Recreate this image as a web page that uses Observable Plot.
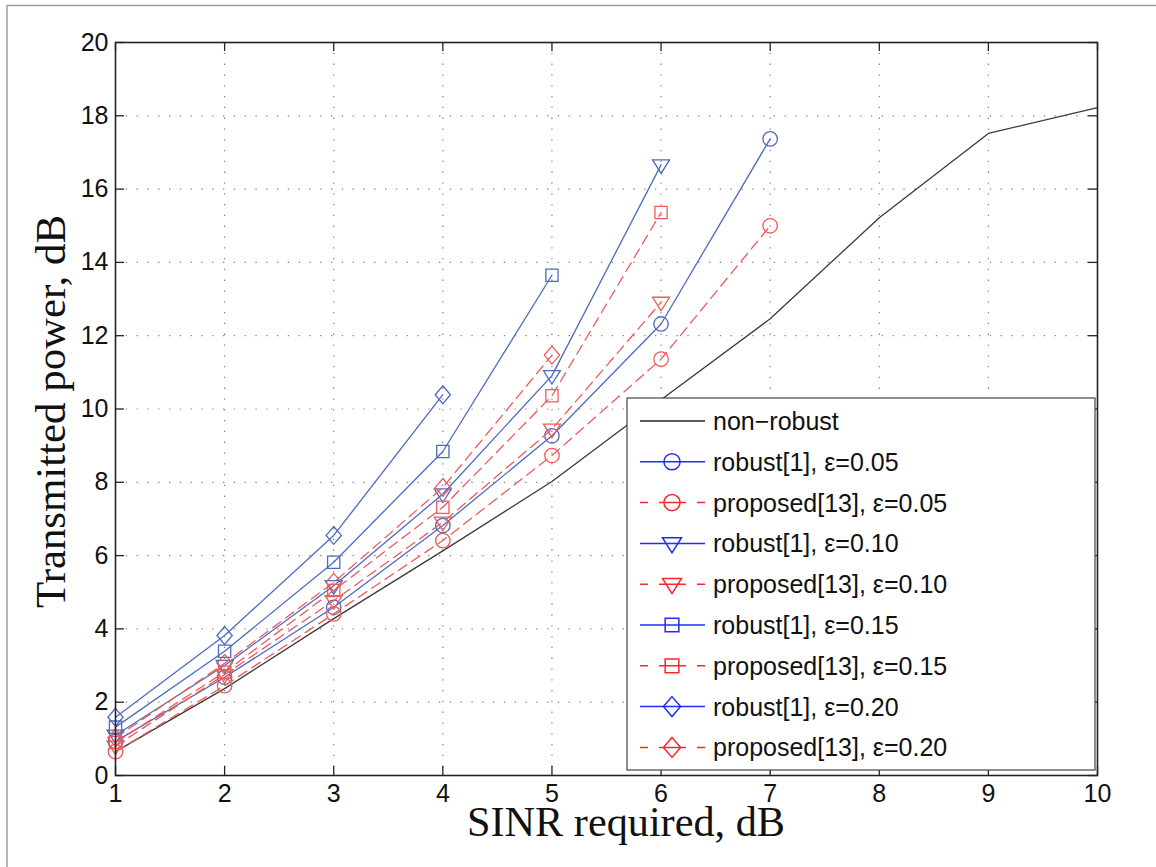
<!DOCTYPE html>
<html><head><meta charset="utf-8">
<script src="https://cdn.jsdelivr.net/npm/d3@7"></script>
<script src="https://cdn.jsdelivr.net/npm/@observablehq/plot@0.6"></script>
<style>body{margin:0;background:#fff;} #chart{width:1156px;height:867px;}</style>
</head><body><div id="chart"></div>
<script>
// ---- data ----
const xTicks = [1, 2, 3, 4, 5, 6, 7, 8, 9, 10];
const yTicks = [0, 2, 4, 6, 8, 10, 12, 14, 16, 18, 20];
const sinr = [1, 2, 3, 4, 5, 6, 7, 8, 9, 10];
const nonRobust   = [0.65, 2.37, 4.28, 6.13, 8.02, 10.25, 12.46, 15.22, 17.52, 18.22];
const robust005   = [0.93, 2.68, 4.59, 6.82, 9.27, 12.32, 17.37];
const proposed005 = [0.65, 2.45, 4.41, 6.41, 8.73, 11.36, 15.0];
const robust010   = [1.10, 3.00, 5.18, 7.68, 10.91, 16.66];
const proposed010 = [0.80, 2.75, 4.77, 6.91, 9.45, 12.91];
const robust015   = [1.32, 3.39, 5.82, 8.84, 13.65];
const proposed015 = [0.90, 2.82, 5.05, 7.32, 10.36, 15.36];
const robust020   = [1.59, 3.82, 6.55, 10.39];
const proposed020 = [1.03, 3.06, 5.27, 7.86, 11.47];
const seriesLabels = ["non\u2212robust",
  "robust[1], \u03b5=0.05", "proposed[13], \u03b5=0.05",
  "robust[1], \u03b5=0.10", "proposed[13], \u03b5=0.10",
  "robust[1], \u03b5=0.15", "proposed[13], \u03b5=0.15",
  "robust[1], \u03b5=0.20", "proposed[13], \u03b5=0.20"];
const seriesValues = [nonRobust, robust005, proposed005, robust010, proposed010,
  robust015, proposed015, robust020, proposed020];
const seriesKinds = ["plain", "robust", "proposed", "robust", "proposed", "robust", "proposed", "robust", "proposed"];
const seriesMarkers = [null, "circle", "circle", "tri", "tri", "square", "square", "diamond", "diamond"];

// ---- symbols ----
const symbols = {
  circle: {draw(c, s) { const r = Math.sqrt(s / Math.PI) * 0.85; c.moveTo(r, 0); c.arc(0, 0, r, 0, 2 * Math.PI); c.closePath(); }},
  tri: {draw(c, s) { const r = Math.sqrt(s / Math.PI); c.moveTo(-r, -0.6 * r); c.lineTo(r, -0.6 * r); c.lineTo(0, r); c.closePath(); }},
  square: {draw(c, s) { const r = Math.sqrt(s / Math.PI) * 0.72; c.rect(-r, -r, 2 * r, 2 * r); }},
  diamond: {draw(c, s) { const r = Math.sqrt(s / Math.PI); c.moveTo(0, -1.05 * r); c.lineTo(0.9 * r, 0); c.lineTo(0, 1.05 * r); c.lineTo(-0.9 * r, 0); c.closePath(); }}
};
const styles = {
  plain:    {stroke: "#3a3a3a", dash: null, legendStroke: "#222"},
  robust:   {stroke: "#4d6bbf", dash: null, legendStroke: "#1f2ff0"},
  proposed: {stroke: "#f05a5a", dash: "10,6", legendStroke: "#f22a2a"}
};

// ---- layout ----
const W = 1156, H = 867, mL = 115, mR = 59, mT = 42, mB = 92;
const plotW = W - mL - mR, plotH = H - mT - mB, tk = 9;

const series = seriesValues.map((vals, i) => ({
  label: seriesLabels[i], kind: seriesKinds[i], marker: seriesMarkers[i],
  rows: vals.map((v, j) => ({x: sinr[j], y: v}))
}));

const marks = [
  Plot.gridX(xTicks.slice(1, -1), {stroke: "#808080", strokeOpacity: 1, strokeWidth: 1.2, strokeDasharray: "1.3,9.5"}),
  Plot.gridY(yTicks.slice(1, -1), {stroke: "#808080", strokeOpacity: 1, strokeWidth: 1.2, strokeDasharray: "1.3,9.5"}),
  Plot.ruleX(xTicks, {insetTop: plotH - tk, stroke: "#222", strokeWidth: 1.3}),
  Plot.ruleX(xTicks, {insetBottom: plotH - tk, stroke: "#222", strokeWidth: 1.3}),
  Plot.ruleY(yTicks, {insetRight: plotW - tk, stroke: "#222", strokeWidth: 1.3}),
  Plot.ruleY(yTicks, {insetLeft: plotW - tk, stroke: "#222", strokeWidth: 1.3}),
  Plot.axisX(xTicks, {tickSize: 0, tickPadding: 9, fontSize: 25, label: null, fill: "#111"}),
  Plot.axisY(yTicks, {tickSize: 0, tickPadding: 7, fontSize: 25, label: null, fill: "#111"})
];
for (const s of series) {
  const st = styles[s.kind];
  marks.push(Plot.line(s.rows, {x: "x", y: "y", stroke: st.stroke, strokeWidth: 1.3, strokeDasharray: st.dash}));
  if (s.marker) marks.push(Plot.dot(s.rows, {x: "x", y: "y", r: 8.5, symbol: symbols[s.marker], stroke: st.stroke, strokeWidth: 1.3, fill: "none"}));
}
marks.push(Plot.frame({stroke: "#222", strokeWidth: 1.6}));

const chart = Plot.plot({
  width: W, height: H, marginLeft: mL, marginRight: mR, marginTop: mT, marginBottom: mB,
  style: {fontFamily: "'Liberation Sans', Arial, sans-serif", background: "white", color: "#111"},
  x: {domain: [1, 10]},
  y: {domain: [0, 20]},
  marks
});
document.getElementById("chart").appendChild(chart);

// ---- decorations: page border, axis titles, legend ----
const svg = d3.select(chart);
svg.insert("path", ":first-child").attr("d", `M7,${H} V5.5 H${W}`).attr("fill", "none").attr("stroke", "#a0a0a0").attr("stroke-width", 1.5);

svg.append("text").text("SINR required, dB")
  .attr("x", 626).attr("y", 836).attr("text-anchor", "middle")
  .attr("font-family", "'Liberation Serif', 'Times New Roman', serif").attr("font-size", 42)
  .attr("textLength", 318).attr("lengthAdjust", "spacingAndGlyphs").attr("fill", "#111");
svg.append("text").text("Transmitted power, dB")
  .attr("transform", "translate(65,411.5) rotate(-90)").attr("text-anchor", "middle")
  .attr("font-family", "'Liberation Serif', 'Times New Roman', serif").attr("font-size", 42)
  .attr("textLength", 393).attr("lengthAdjust", "spacingAndGlyphs").attr("fill", "#111");

const lg = svg.append("g").attr("text-anchor", "start");
lg.append("rect").attr("x", 627).attr("y", 398).attr("width", 468).attr("height", 372)
  .attr("fill", "white").attr("stroke", "#444").attr("stroke-width", 1.2);
series.forEach((s, i) => {
  const y = 421 + i * 40.8;
  const st = styles[s.kind];
  lg.append("line").attr("x1", 640).attr("x2", 705).attr("y1", y).attr("y2", y)
    .attr("stroke", st.legendStroke).attr("stroke-width", 1.5)
    .attr("stroke-dasharray", s.kind === "proposed" ? "8,11,27,11,8" : null);
  if (s.marker) {
    lg.append("path").attr("d", d3.symbol(symbols[s.marker], Math.PI * 9.5 * 9.5)())
      .attr("transform", `translate(672,${y})`).attr("fill", "none")
      .attr("stroke", st.legendStroke).attr("stroke-width", 1.5);
  }
  lg.append("text").text(s.label).attr("x", 713).attr("y", y).attr("dy", "0.36em")
    .attr("text-anchor", "start").attr("font-size", 25).attr("fill", "#111");
});
</script></body></html>
